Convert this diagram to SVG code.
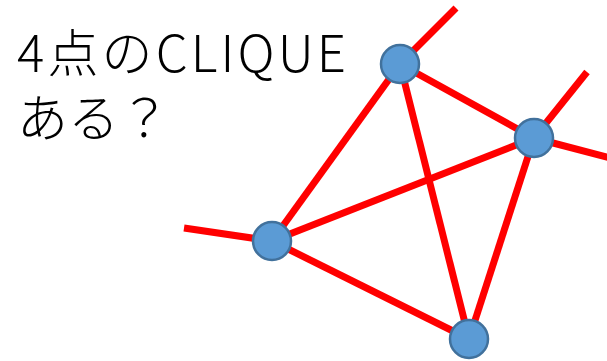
<svg xmlns="http://www.w3.org/2000/svg" width="607" height="361" viewBox="0 0 607 361">
<style>
.t{font-family:"Noto Sans CJK JP","Liberation Sans",sans-serif;font-size:51px;font-weight:300;fill:#000}
.e{stroke:#FF0000;stroke-width:7;fill:none}
.n{fill:#5B9BD5;stroke:#41719C;stroke-width:2.5}
</style>
<rect width="607" height="361" fill="#fff"/>
<g id="title">
<text class="t" x="17" y="72" textLength="329" lengthAdjust="spacing">4点のCLIQUE</text>
<text class="t" x="17" y="137">ある？</text>
</g>
<g id="edges">
<line class="e" x1="400" y1="64" x2="456" y2="8"/>
<line class="e" x1="534" y1="138" x2="587" y2="72"/>
<line class="e" x1="534" y1="138" x2="610" y2="158"/>
<line class="e" x1="272" y1="241" x2="184" y2="228"/>
<line class="e" x1="400" y1="64" x2="534" y2="138"/>
<line class="e" x1="400" y1="64" x2="272" y2="241"/>
<line class="e" x1="400" y1="64" x2="469" y2="339"/>
<line class="e" x1="534" y1="138" x2="272" y2="241"/>
<line class="e" x1="534" y1="138" x2="469" y2="339"/>
<line class="e" x1="272" y1="241" x2="469" y2="339"/>
</g>
<g id="node1"><circle class="n" cx="400" cy="64" r="19"/></g>
<g id="node2"><circle class="n" cx="534" cy="138" r="19"/></g>
<g id="node3"><circle class="n" cx="272" cy="241" r="19"/></g>
<g id="node4"><circle class="n" cx="469" cy="339" r="19"/></g>
</svg>
